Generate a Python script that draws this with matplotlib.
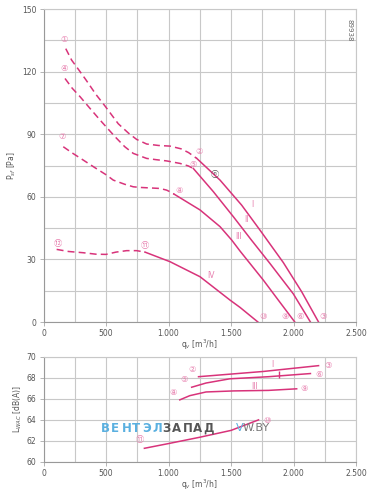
#!/usr/bin/env python3
import matplotlib

matplotlib.use("Agg")
import matplotlib.pyplot as plt
import matplotlib.ticker as mticker

# pressure curves, dashed (unstable) part then solid part
q_1_dash = [178, 225, 280, 340, 420, 492, 598, 680, 745, 825, 920, 1012, 1100, 1160, 1226]
p_1_dash = [131, 125.5, 121, 116, 109, 103.5, 95, 90.5, 87.5, 85.3, 84.6, 84.3, 83, 81.2, 78.4]
q_1 = [1226, 1412, 1585, 1732, 1918, 2065, 2200]
p_1 = [78.4, 68, 56, 44, 28.5, 14.5, 0]

q_2_dash = [172, 230, 292, 370, 452, 572, 650, 718, 825, 900, 985, 1092, 1158, 1198]
p_2_dash = [116.7, 112, 108, 102.5, 96.8, 88.8, 84, 80.8, 78.4, 77.8, 77.2, 76, 74.8, 73.6]
q_2 = [1198, 1358, 1518, 1660, 1812, 1998, 2135]
p_2 = [73.6, 62.5, 50.5, 39.5, 28, 13.5, 0]

q_3_dash = [158, 230, 318, 410, 505, 558, 650, 718, 772, 870, 932, 985, 1012, 1044]
p_3_dash = [84, 81, 77.6, 74, 70.4, 68, 66, 64.8, 64.5, 64.2, 64, 63.2, 62.4, 61.3]
q_3 = [1044, 1252, 1412, 1505, 1572, 1758, 1878, 2010]
p_3 = [61.3, 53.7, 45.7, 39.3, 34, 20.1, 10.5, 0]

q_4_dash = [105, 200, 318, 420, 500, 580, 665, 745, 812]
p_4_dash = [34.8, 33.8, 33.2, 32.5, 32.4, 33.5, 34.2, 34.2, 33.5]
q_4 = [812, 1012, 1252, 1492, 1572, 1715]
p_4 = [33.5, 28.9, 21.7, 10.5, 7, 0]

# sound power curves
q_l1 = [1240, 1500, 1760, 2200]
l_1 = [68.1, 68.35, 68.6, 69.15]
q_l2 = [1185, 1300, 1490, 1800, 2135]
l_2 = [67.1, 67.5, 67.9, 68.1, 68.4]
q_l3 = [1090, 1170, 1300, 1520, 1800, 2025]
l_3 = [65.9, 66.3, 66.65, 66.75, 66.8, 66.95]
q_l4 = [807, 1000, 1250, 1500, 1720]
l_4 = [61.3, 61.75, 62.35, 63.0, 64.0]

# circled point numbers
top_marks = [("①", 166, 135.3), ("④", 164, 121.6), ("⑦", 145, 88.8), ("⑫", 113, 37.7),
             ("⑪", 812, 36.9), ("⑧", 1084, 63.2), ("⑤", 1198, 75.6), ("②", 1244, 81.6),
             ("⑩", 1760, 2.5), ("⑨", 1930, 2.5), ("⑥", 2052, 2.5), ("③", 2234, 2.5)]
bot_marks = [("②", 1185, 68.8), ("⑤", 1124, 67.8), ("⑧", 1034, 66.6), ("⑪", 772, 62.1),
             ("⑩", 1785, 63.9), ("③", 2273, 69.2), ("⑥", 2204, 68.35), ("⑨", 2084, 67.0)]

PINK = "#d8337a"
MARK = "#e77fae"
GRID = "#c8c8c8"
TXT = "#555555"

plt.rcParams["font.family"] = ["DejaVu Sans", "Noto Sans CJK JP", "Noto Sans"]
plt.rcParams["lines.scale_dashes"] = False

fig = plt.figure(figsize=(3.8, 4.92), dpi=100)
ax = fig.add_axes([0.1145, 0.3455, 0.8225, 0.6362])
bx = fig.add_axes([0.1145, 0.061, 0.8225, 0.214])


def thousands(v, pos):
    return "{:,.0f}".format(v).replace(",", ".")


for a in (ax, bx):
    a.set_xlim(0, 2500)
    a.xaxis.set_major_locator(mticker.MultipleLocator(500))
    a.xaxis.set_minor_locator(mticker.MultipleLocator(250))
    a.xaxis.set_major_formatter(mticker.FuncFormatter(thousands))
    a.grid(True, which="both", color=GRID, lw=0.8)
    a.set_axisbelow(True)
    for s in a.spines.values():
        s.set_color(GRID)
        s.set_linewidth(0.8)
    a.spines["left"].set_color("#999999")
    a.spines["bottom"].set_color("#999999")
    a.tick_params(which="both", length=3, width=0.6, color="#aaaaaa",
                  labelsize=5.5, labelcolor=TXT, pad=2)
    a.tick_params(which="minor", length=0)
    a.set_xlabel("q$_v$ [m$^3$/h]", fontsize=5.5, color=TXT, labelpad=0)

ax.set_ylim(0, 150)
ax.yaxis.set_major_locator(mticker.MultipleLocator(30))
ax.yaxis.set_minor_locator(mticker.MultipleLocator(15))
ax.set_ylabel("P$_{sf}$ [Pa]", fontsize=5.5, color=TXT, labelpad=3)

bx.set_ylim(60, 70)
bx.yaxis.set_major_locator(mticker.MultipleLocator(2))
bx.set_ylabel("L$_{WAC}$ [dB(A)]", fontsize=5.5, color=TXT, labelpad=2)

for qd, pd_, qs, ps in [(q_1_dash, p_1_dash, q_1, p_1), (q_2_dash, p_2_dash, q_2, p_2),
                        (q_3_dash, p_3_dash, q_3, p_3), (q_4_dash, p_4_dash, q_4, p_4)]:
    ax.plot(qd, pd_, color=PINK, lw=1.1, linestyle="--", dashes=(5, 3))
    ax.plot(qs, ps, color=PINK, lw=1.1)

for q, l in [(q_l1, l_1), (q_l2, l_2), (q_l3, l_3), (q_l4, l_4)]:
    bx.plot(q, l, color=PINK, lw=1.1)
bx.vlines(1886, 67.98, 68.62, color=PINK, lw=1.0)

for t, x, y in top_marks:
    ax.text(x, y, t, fontsize=6, color=MARK, ha="center", va="center")
ax.text(1372, 70.8, "ⓝ", fontsize=6, color="#555555", ha="center", va="center")
for t, x, y in bot_marks:
    bx.text(x, y, t, fontsize=6, color=MARK, ha="center", va="center")

for t, x, y in [("I", 1673, 56.5), ("II", 1620, 49.2), ("III", 1558, 41.2), ("IV", 1338, 22.5)]:
    ax.text(x, y, t, fontsize=5.5, color=MARK, ha="center", va="center")
bx.text(1833, 69.25, "I", fontsize=5.5, color=MARK, ha="center", va="center")
bx.text(1692, 67.2, "III", fontsize=5.5, color=MARK, ha="center", va="center")

ax.text(2470, 145, "89938", fontsize=5, color="#666666", rotation=270,
        ha="right", va="top")

# watermark, letter spaced
wx = 101
for i, ch in enumerate("ВЕНТЭЛЗАПАД"):
    col = "#5ab0e0" if i < 6 else "#555555"
    fig.text(wx / 380, 1 - 428 / 492, ch, fontsize=8.5, color=col,
             fontweight="bold", va="center", ha="left")
    wx += 10.2
fig.text(236 / 380, 1 - 428 / 492, "V", fontsize=8, color="#5ab0e0", va="center")
fig.text(243 / 380, 1 - 428 / 492, "W.BY", fontsize=8, color="#777777", va="center")

fig.savefig("out.png", dpi=100)
